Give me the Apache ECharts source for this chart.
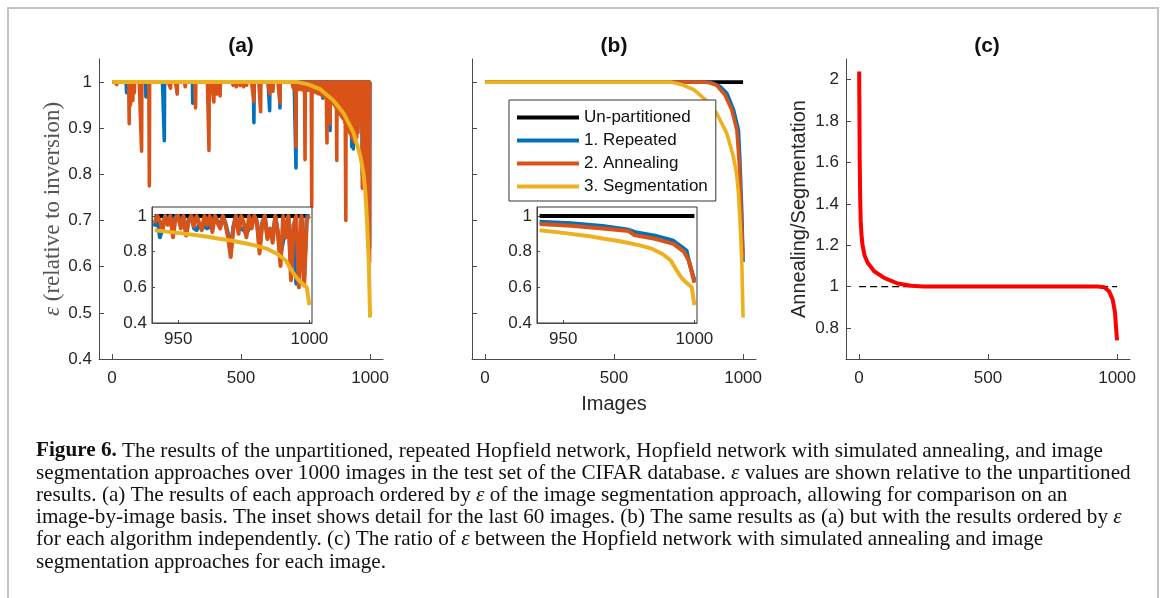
<!DOCTYPE html>
<html>
<head>
<meta charset="utf-8">
<script src="https://cdn.jsdelivr.net/npm/echarts@6/dist/echarts.min.js"></script>
<style>
  html, body { margin: 0; padding: 0; background: #fff; }
  #chart { width: 1166px; height: 598px; }
</style>
</head>
<body>
<div id="chart"></div>
<script>
// ---------------- data ----------------
const seriesNames = ['Un-partitioned', '1. Repeated', '2. Annealing', '3. Segmentation'];
const imageTicks = [0, 500, 1000];
const epsTicks = [0.4, 0.5, 0.6, 0.7, 0.8, 0.9, 1];
const insetXTicks = [950, 1000];
const insetYTicks = [0.4, 0.6, 0.8, 1];
const ratioTicks = [0.8, 1, 1.2, 1.4, 1.6, 1.8, 2];

// ε of the un-partitioned network (reference level)
const unpartitioned = [[1, 1], [1000, 1]];
const unpartitionedTail = [[941, 1], [1000, 1]];

// (a) images 1–940 ordered by segmentation ε: images with ε below 1 (all others are 1)
const repeatedDipsA = [
  [57, 0.977], [132, 0.968], [203, 0.873], [313, 0.954], [550, 0.912], [611, 0.938],
  [651, 0.944], [713, 0.814], [817, 0.965], [845, 0.895], [929, 0.86], [935, 0.855]
];
const annealingDipsA = [
  [19, 0.995], [67, 0.91], [72, 0.95], [81, 0.96], [87, 0.977], [115, 0.85], [145, 0.775],
  [227, 0.987], [253, 0.974], [284, 0.99], [324, 0.944], [376, 0.852], [395, 0.957],
  [406, 0.974], [419, 0.97], [470, 0.993], [482, 0.99], [497, 0.993], [510, 0.99],
  [522, 0.993], [550, 0.958], [576, 0.936], [611, 0.975], [624, 0.98], [651, 0.955],
  [702, 0.988], [706, 0.985], [710, 0.99], [713, 0.86], [717, 0.986], [721, 0.988],
  [725, 0.984], [729, 0.99], [733, 0.986], [737, 0.983], [741, 0.988], [745, 0.985],
  [748, 0.832], [752, 0.986], [756, 0.982], [760, 0.987], [764, 0.983], [768, 0.985],
  [771, 0.98], [774, 0.73], [778, 0.982], [782, 0.978], [786, 0.983], [790, 0.979],
  [794, 0.976], [798, 0.975], [802, 0.978], [806, 0.974], [810, 0.972], [814, 0.975],
  [818, 0.97], [822, 0.968], [826, 0.972], [829, 0.965], [833, 0.868], [837, 0.966],
  [841, 0.962], [845, 0.91], [849, 0.958], [853, 0.955], [856, 0.957], [859, 0.952],
  [862, 0.95], [865, 0.948], [868, 0.944], [871, 0.83], [874, 0.94], [877, 0.938],
  [880, 0.935], [884, 0.93], [887, 0.928], [890, 0.925], [893, 0.922], [896, 0.92],
  [899, 0.918], [902, 0.912], [906, 0.70], [909, 0.905], [912, 0.9], [915, 0.898],
  [918, 0.895], [921, 0.89], [924, 0.887], [927, 0.883], [930, 0.88], [933, 0.878],
  [936, 0.874], [939, 0.87]
];

// (a) last 60 images (941–1000), one value per image
const tailStart = 941;
const repeatedTailA = [
  0.94, 1, 0.88, 0.93, 1, 0.96, 1, 0.90, 1, 1,
  0.94, 1, 0.90, 0.98, 1, 0.93, 0.92, 0.95, 0.93, 0.94,
  0.93, 0.94, 0.95, 1, 0.97, 0.94, 1, 0.96, 0.90, 0.80,
  0.94, 1, 0.92, 0.93, 0.92, 0.90, 0.93, 0.95, 1, 0.97,
  0.82, 0.96, 1, 0.88, 0.92, 0.87, 1, 0.91, 0.78, 0.86,
  0.90, 1, 0.70, 0.95, 0.62, 0.65, 1, 0.64, 1, 1
];
const annealingTailA = [
  0.96, 1, 0.97, 0.92, 1, 0.95, 1, 0.88, 0.99, 1,
  0.93, 1, 0.89, 0.97, 1, 0.94, 1, 0.96, 0.92, 1,
  0.95, 1, 0.91, 1, 0.96, 0.93, 1, 0.95, 0.88, 0.77,
  0.93, 1, 0.90, 1, 0.96, 0.88, 1, 0.93, 1, 0.97,
  0.79, 0.95, 1, 0.87, 0.93, 0.85, 1, 0.90, 0.72, 1,
  0.88, 1, 0.64, 0.95, 1, 0.60, 1, 0.61, 0.98, 1
];

// segmentation ε, sorted (image, ε)
const segmentationSorted = [
  [1, 1], [720, 1], [760, 0.995], [808, 0.984], [858, 0.96], [898, 0.932], [936, 0.89],
  [962, 0.84], [975, 0.8], [982, 0.76], [988, 0.70], [995, 0.61], [1000, 0.49]
];
const segmentationTail = [
  [941, 0.92], [950, 0.905], [960, 0.886], [965, 0.873], [970, 0.862], [975, 0.848],
  [980, 0.832], [984, 0.815], [988, 0.785], [991, 0.75], [993, 0.70], [995, 0.655],
  [997, 0.625], [999, 0.60], [1000, 0.50]
];

// (b) each algorithm sorted independently (image, ε)
const repeatedSorted = [
  [1, 1], [870, 1], [885, 0.997], [912, 0.99], [937, 0.976], [963, 0.94], [982, 0.896],
  [988, 0.825], [995, 0.717], [1000, 0.61]
];
const annealingSorted = [
  [1, 1], [850, 1], [873, 0.998], [898, 0.993], [930, 0.972], [956, 0.94], [976, 0.896],
  [985, 0.825], [995, 0.68], [1000, 0.62]
];
const repeatedSortedTail = [
  [941, 0.967], [953, 0.959], [965, 0.944], [975, 0.922], [978, 0.907], [985, 0.889],
  [992, 0.861], [997, 0.806], [998, 0.741], [999, 0.69], [1000, 0.64]
];
const annealingSortedTail = [
  [941, 0.955], [953, 0.945], [965, 0.93], [975, 0.915], [977, 0.893], [985, 0.872],
  [992, 0.843], [996, 0.8], [998, 0.745], [1000, 0.625]
];

// (c) ratio of ε, annealing / segmentation (image, ratio)
const ratioSorted = [
  [1, 2.04], [2, 1.85], [3, 1.62], [5, 1.42], [7, 1.32], [10, 1.25], [14, 1.2], [22, 1.15],
  [34, 1.115], [59, 1.074], [98, 1.042], [150, 1.015], [202, 1.004], [250, 1], [925, 1],
  [950, 0.997], [969, 0.977], [983, 0.937], [992, 0.874], [996, 0.8], [1000, 0.74]
];
const ratioReference = [[1, 1], [1000, 1]];

const captionLines = [
  '{b|Figure 6.} The results of the unpartitioned, repeated Hopfield network, Hopfield network with simulated annealing, and image',
  'segmentation approaches over 1000 images in the test set of the CIFAR database. {i|ε} values are shown relative to the unpartitioned',
  'results. (a) The results of each approach ordered by {i|ε} of the image segmentation approach, allowing for comparison on an',
  'image-by-image basis. The inset shows detail for the last 60 images. (b) The same results as (a) but with the results ordered by {i|ε}',
  'for each algorithm independently. (c) The ratio of {i|ε} between the Hopfield network with simulated annealing and image',
  'segmentation approaches for each image.'
];

// ---------------- helpers ----------------
const COLORS = ['#000000', '#0072BD', '#D95319', '#EDB120'];
const SANS = '"Liberation Sans", Arial, sans-serif';
const SERIF = '"Liberation Serif", "Times New Roman", serif';
const CAPTION_SIZE = 21.2;

function perImage(dips, tail) {
  const lookup = new Map(dips);
  const out = [];
  for (let i = 1; i <= 1000; i++) {
    let v = lookup.has(i) ? lookup.get(i) : 1;
    if (i >= tailStart) v = tail[i - tailStart];
    out.push([i, v]);
  }
  return out;
}
function tailPairs(tail) {
  return tail.map((v, k) => [tailStart + k, v]);
}

function lineSeries(name, colorIdx, data, axisIdx, width, z) {
  return {
    type: 'line', name, data,
    xAxisIndex: axisIdx, yAxisIndex: axisIdx,
    showSymbol: false, symbol: 'none', silent: true, animation: false,
    z,
    itemStyle: { color: COLORS[colorIdx] },
    lineStyle: { color: COLORS[colorIdx], width, join: 'round' }
  };
}

const plainNumber = v => String(+v.toFixed(2));

const axisBase = (extra) => Object.assign({
  type: 'value',
  axisLine: { show: true, onZero: false, lineStyle: { color: '#4a4a4a', width: 1 } },
  splitLine: { show: false }
}, extra);

function ticks(values, labelOpts, tickLen) {
  return {
    axisTick: { show: true, inside: true, length: tickLen || 5, customValues: values, lineStyle: { color: '#4a4a4a' } },
    axisLabel: Object.assign({ color: '#262626', fontSize: 17, fontFamily: SANS, customValues: values, formatter: plainNumber }, labelOpts || {})
  };
}

// ---------------- chart ----------------
const chart = echarts.init(document.getElementById('chart'), null, { renderer: 'canvas' });

const grids = [
  { left: 99, top: 59, width: 284, height: 300 },
  { left: 152, top: 207, width: 160, height: 116, show: true, backgroundColor: '#fff', borderColor: '#333', borderWidth: 1, z: 3 },
  { left: 472, top: 59, width: 284, height: 300 },
  { left: 537, top: 207, width: 160, height: 116, show: true, backgroundColor: '#fff', borderColor: '#333', borderWidth: 1, z: 3 },
  { left: 846, top: 59, width: 284, height: 300 }
].map(g => Object.assign({ containLabel: false, outerBoundsMode: 'none' }, g));

const xAxes = [
  axisBase(Object.assign({ gridIndex: 0, min: -50, max: 1050 }, ticks(imageTicks, { margin: 11 }))),
  axisBase(Object.assign({ gridIndex: 1, min: 940, max: 1001, z: 4 }, ticks(insetXTicks, { margin: 8 }, 3))),
  axisBase(Object.assign({ gridIndex: 2, min: -50, max: 1050, name: 'Images', nameLocation: 'middle', nameGap: 35,
    nameTextStyle: { fontSize: 20, color: '#262626', fontFamily: SANS } }, ticks(imageTicks, { margin: 11 }))),
  axisBase(Object.assign({ gridIndex: 3, min: 940, max: 1001, z: 4 }, ticks(insetXTicks, { margin: 8 }, 3))),
  axisBase(Object.assign({ gridIndex: 4, min: -50, max: 1050 }, ticks(imageTicks, { margin: 11 })))
];

const yAxes = [
  axisBase(Object.assign({ gridIndex: 0, min: 0.4, max: 1.05,
    name: '{i|ε} (relative to inversion)', nameLocation: 'middle', nameGap: 35, nameRotate: 90,
    nameTextStyle: { fontSize: 23, color: '#555', fontFamily: SERIF,
      rich: { i: { fontStyle: 'italic', fontSize: 23, color: '#555', fontFamily: SERIF } } }
  }, ticks(epsTicks, { margin: 7 }))),
  axisBase(Object.assign({ gridIndex: 1, min: 0.4, max: 1.05, z: 4 }, ticks(insetYTicks, { margin: 5 }, 3))),
  axisBase(Object.assign({ gridIndex: 2, min: 0.4, max: 1.05 }, ticks(epsTicks, { show: false }))),
  axisBase(Object.assign({ gridIndex: 3, min: 0.4, max: 1.05, z: 4 }, ticks(insetYTicks, { margin: 5 }, 3))),
  axisBase(Object.assign({ gridIndex: 4, min: 0.65, max: 2.1,
    name: 'Annealing/Segmentation', nameLocation: 'middle', nameGap: 37, nameRotate: 90,
    nameTextStyle: { fontSize: 20, color: '#262626', fontFamily: SANS }
  }, ticks(ratioTicks, { margin: 7 })))
];

const MAIN_W = 3.6, INSET_W = 4;
const series = [
  // (a) ordered by segmentation ε
  lineSeries(seriesNames[0], 0, unpartitioned, 0, 3, 2),
  lineSeries(seriesNames[1], 1, perImage(repeatedDipsA, repeatedTailA), 0, MAIN_W, 2),
  lineSeries(seriesNames[2], 2, perImage(annealingDipsA, annealingTailA), 0, MAIN_W, 2),
  lineSeries(seriesNames[3], 3, segmentationSorted, 0, 4, 2),
  // (a) inset
  lineSeries(seriesNames[0], 0, unpartitionedTail, 1, INSET_W, 5),
  lineSeries(seriesNames[1], 1, tailPairs(repeatedTailA), 1, INSET_W, 5),
  lineSeries(seriesNames[2], 2, tailPairs(annealingTailA), 1, INSET_W, 5),
  lineSeries(seriesNames[3], 3, segmentationTail, 1, INSET_W, 5),
  // (b) sorted independently
  lineSeries(seriesNames[0], 0, unpartitioned, 2, MAIN_W, 2),
  lineSeries(seriesNames[1], 1, repeatedSorted, 2, MAIN_W, 2),
  lineSeries(seriesNames[2], 2, annealingSorted, 2, MAIN_W, 2),
  lineSeries(seriesNames[3], 3, segmentationSorted, 2, MAIN_W, 2),
  // (b) inset
  lineSeries(seriesNames[0], 0, unpartitionedTail, 3, INSET_W, 5),
  lineSeries(seriesNames[1], 1, repeatedSortedTail, 3, INSET_W, 5),
  lineSeries(seriesNames[2], 2, annealingSortedTail, 3, INSET_W, 5),
  lineSeries(seriesNames[3], 3, segmentationTail, 3, INSET_W, 5),
  // (c) ratio
  {
    type: 'line', name: 'ratio = 1', data: ratioReference, xAxisIndex: 4, yAxisIndex: 4,
    showSymbol: false, symbol: 'none', silent: true, animation: false, z: 2,
    lineStyle: { color: '#000', width: 1.3, type: [7, 4] }
  },
  {
    type: 'line', name: 'Annealing/Segmentation', data: ratioSorted, xAxisIndex: 4, yAxisIndex: 4,
    showSymbol: false, symbol: 'none', silent: true, animation: false, z: 3,
    itemStyle: { color: '#FF0000' },
    lineStyle: { color: '#FF0000', width: 4, join: 'round' }
  }
];

const graphics = [
  { type: 'rect', silent: true, z: 0,
    shape: { x: 8, y: 8, width: 1150, height: 600 },
    style: { fill: null, stroke: '#c4c4c4', lineWidth: 2 } },
  ...[['(a)', 241], ['(b)', 614], ['(c)', 987]].map(([t, x]) => ({
    type: 'text', silent: true, z: 10, x, y: 46,
    style: { text: t, fontSize: 21, fontWeight: 'bold', fontFamily: SANS, fill: '#111',
      align: 'center', verticalAlign: 'middle' }
  })),
  ...captionLines.map((line, k) => ({
    type: 'text', silent: true, z: 10, x: 36, y: 451 + k * 22.2,
    style: {
      text: line, fontSize: CAPTION_SIZE, fontFamily: SERIF, fill: '#111',
      align: 'left', verticalAlign: 'middle',
      rich: {
        b: { fontWeight: 'bold', fontSize: CAPTION_SIZE, fontFamily: SERIF, fill: '#111' },
        i: { fontStyle: 'italic', fontSize: CAPTION_SIZE, fontFamily: SERIF, fill: '#111' }
      }
    }
  }))
];

chart.setOption({
  animation: false,
  backgroundColor: '#fff',
  grid: grids,
  xAxis: xAxes,
  yAxis: yAxes,
  legend: {
    data: seriesNames.map(n => ({ name: n, icon: 'rect' })),
    orient: 'vertical', left: 509, top: 100,
    itemWidth: 62, itemHeight: 4, itemGap: 6,
    padding: [9, 8, 6, 8],
    backgroundColor: '#fff', borderColor: '#333', borderWidth: 1, borderRadius: 0,
    textStyle: { fontSize: 17, color: '#111', fontFamily: SANS },
    selectedMode: false, z: 6
  },
  series,
  graphic: graphics
});
</script>
</body>
</html>
